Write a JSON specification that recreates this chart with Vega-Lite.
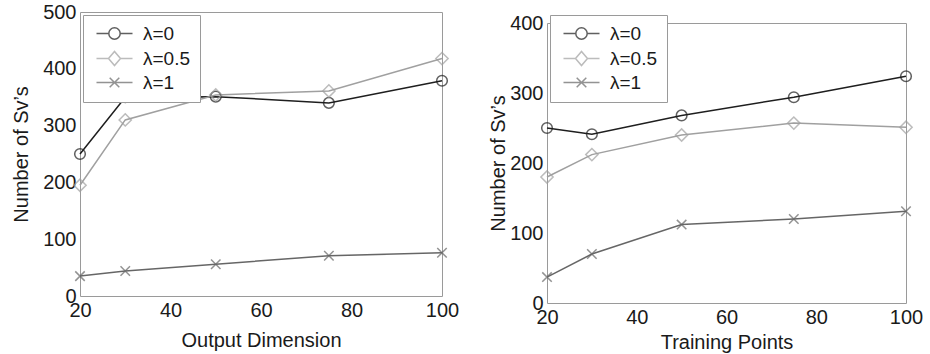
{
  "$schema": "https://vega.github.io/schema/vega-lite/v6.json",
  "padding": {"left": 11, "top": 1, "right": 5, "bottom": 2},
  "background": "white",
  "config": {
    "font": "Liberation Sans",
    "view": {"stroke": "#9a9a9a", "strokeWidth": 1},
    "axis": {
      "grid": false, "domain": false, "ticks": false, "tickSize": 0, "labelFlush": false,
      "labelFont": "Liberation Sans", "labelFontSize": 20, "labelColor": "#1a1a1a",
      "titleFont": "Liberation Sans", "titleFontSize": 20, "titleFontWeight": "normal", "titleColor": "#1a1a1a",
      "labelPadding": 4
    },
    "legend": {
      "orient": "top-left", "offset": 3, "title": null,
      "strokeColor": "#9a9a9a", "fillColor": "white", "padding": 9,
      "labelFont": "Liberation Sans", "labelFontSize": 19, "labelColor": "#1a1a1a",
      "symbolSize": 144, "symbolStrokeWidth": 1.5, "symbolOffset": 13, "labelOffset": 19, "rowPadding": 4
    }
  },
  "resolve": {
    "scale": {"x": "independent", "y": "independent", "stroke": "independent", "shape": "independent"},
    "legend": {"stroke": "independent", "shape": "independent"}
  },
  "spacing": 28,
  "hconcat": [
    {
      "width": 362, "height": 284,
      "data": {"values": [
        {"x": 20, "y": 250, "s": "λ=0"}, {"x": 30, "y": 350, "s": "λ=0"}, {"x": 50, "y": 351, "s": "λ=0"}, {"x": 75, "y": 340, "s": "λ=0"}, {"x": 100, "y": 379, "s": "λ=0"},
        {"x": 20, "y": 195, "s": "λ=0.5"}, {"x": 30, "y": 310, "s": "λ=0.5"}, {"x": 50, "y": 354, "s": "λ=0.5"}, {"x": 75, "y": 361, "s": "λ=0.5"}, {"x": 100, "y": 418, "s": "λ=0.5"},
        {"x": 20, "y": 35, "s": "λ=1"}, {"x": 30, "y": 44, "s": "λ=1"}, {"x": 50, "y": 56, "s": "λ=1"}, {"x": 75, "y": 71, "s": "λ=1"}, {"x": 100, "y": 76, "s": "λ=1"}
      ]},
      "encoding": {
        "x": {"field": "x", "type": "quantitative", "scale": {"domain": [20, 100], "nice": false}, "axis": {"values": [20, 40, 60, 80, 100], "title": "Output Dimension", "titlePadding": 10}},
        "y": {"field": "y", "type": "quantitative", "scale": {"domain": [0, 500], "nice": false}, "axis": {"values": [0, 100, 200, 300, 400, 500], "title": "Number of Sv’s", "titlePadding": 11}}
      },
      "layer": [
        {
          "transform": [{"filter": "datum.y < 0"}],
          "mark": {"type": "point", "filled": false, "strokeWidth": 1.5},
          "encoding": {
            "stroke": {"field": "s", "type": "nominal", "scale": {"domain": ["λ=0", "λ=0.5", "λ=1"], "range": ["#1e1e1e", "#a0a0a0", "#666666"]}},
            "shape": {"field": "s", "type": "nominal", "scale": {"domain": ["λ=0", "λ=0.5", "λ=1"], "range": [
              "M-3,0L-0.95,0M0.95,0L3,0M0.95,0A0.95,0.95,0,1,1,-0.95,0A0.95,0.95,0,1,1,0.95,0",
              "M-3,0L-1,0M1,0L3,0M-1,0L0,-1.17L1,0L0,1.17Z",
              "M-3,0L3,0M-0.8,-0.8L0.8,0.8M-0.8,0.8L0.8,-0.8"
            ]}}
          }
        },
        {
          "mark": {"type": "line", "strokeWidth": 1.5},
          "encoding": {
            "detail": {"field": "s"},
            "stroke": {"condition": [{"test": "datum.s === 'λ=0'", "value": "#1e1e1e"}, {"test": "datum.s === 'λ=0.5'", "value": "#a0a0a0"}], "value": "#666666"}
          }
        },
        {
          "mark": {"type": "point", "filled": false, "strokeWidth": 1.5},
          "encoding": {
            "stroke": {"condition": [{"test": "datum.s === 'λ=0'", "value": "#1e1e1e"}, {"test": "datum.s === 'λ=0.5'", "value": "#a0a0a0"}], "value": "#666666"},
            "shape": {"condition": [{"test": "datum.s === 'λ=0'", "value": "circle"}, {"test": "datum.s === 'λ=0.5'", "value": "diamond"}], "value": "M-1,-1L1,1M-1,1L1,-1"},
            "size": {"condition": [{"test": "datum.s === 'λ=0'", "value": 113}, {"test": "datum.s === 'λ=0.5'", "value": 150}], "value": 90}
          }
        }
      ]
    },
    {
      "spacing": -2,
      "vconcat": [
        {
          "width": 359, "height": 1,
          "view": {"stroke": "transparent"},
          "data": {"values": []},
          "mark": "point"
        },
        {
          "width": 359, "height": 280,
          "data": {"values": [
            {"x": 20, "y": 250, "s": "λ=0"}, {"x": 30, "y": 241, "s": "λ=0"}, {"x": 50, "y": 268, "s": "λ=0"}, {"x": 75, "y": 294, "s": "λ=0"}, {"x": 100, "y": 324, "s": "λ=0"},
            {"x": 20, "y": 180, "s": "λ=0.5"}, {"x": 30, "y": 212, "s": "λ=0.5"}, {"x": 50, "y": 240, "s": "λ=0.5"}, {"x": 75, "y": 257, "s": "λ=0.5"}, {"x": 100, "y": 251, "s": "λ=0.5"},
            {"x": 20, "y": 37, "s": "λ=1"}, {"x": 30, "y": 70, "s": "λ=1"}, {"x": 50, "y": 112, "s": "λ=1"}, {"x": 75, "y": 120, "s": "λ=1"}, {"x": 100, "y": 131, "s": "λ=1"}
          ]},
          "encoding": {
            "x": {"field": "x", "type": "quantitative", "scale": {"domain": [20, 100], "nice": false}, "axis": {"values": [20, 40, 60, 80, 100], "title": "Training Points", "titlePadding": 5}},
            "y": {"field": "y", "type": "quantitative", "scale": {"domain": [0, 400], "nice": false}, "axis": {"values": [0, 100, 200, 300, 400], "title": "Number of Sv’s", "titlePadding": 1}}
          },
          "layer": [
            {
              "transform": [{"filter": "datum.y < 0"}],
              "mark": {"type": "point", "filled": false, "strokeWidth": 1.5},
              "encoding": {
                "stroke": {"field": "s", "type": "nominal", "scale": {"domain": ["λ=0", "λ=0.5", "λ=1"], "range": ["#1e1e1e", "#a0a0a0", "#666666"]}},
                "shape": {"field": "s", "type": "nominal", "scale": {"domain": ["λ=0", "λ=0.5", "λ=1"], "range": [
                  "M-3,0L-0.95,0M0.95,0L3,0M0.95,0A0.95,0.95,0,1,1,-0.95,0A0.95,0.95,0,1,1,0.95,0",
                  "M-3,0L-1,0M1,0L3,0M-1,0L0,-1.17L1,0L0,1.17Z",
                  "M-3,0L3,0M-0.8,-0.8L0.8,0.8M-0.8,0.8L0.8,-0.8"
                ]}}
              }
            },
            {
              "mark": {"type": "line", "strokeWidth": 1.5},
              "encoding": {
                "detail": {"field": "s"},
                "stroke": {"condition": [{"test": "datum.s === 'λ=0'", "value": "#1e1e1e"}, {"test": "datum.s === 'λ=0.5'", "value": "#a0a0a0"}], "value": "#666666"}
              }
            },
            {
              "mark": {"type": "point", "filled": false, "strokeWidth": 1.5},
              "encoding": {
                "stroke": {"condition": [{"test": "datum.s === 'λ=0'", "value": "#1e1e1e"}, {"test": "datum.s === 'λ=0.5'", "value": "#a0a0a0"}], "value": "#666666"},
                "shape": {"condition": [{"test": "datum.s === 'λ=0'", "value": "circle"}, {"test": "datum.s === 'λ=0.5'", "value": "diamond"}], "value": "M-1,-1L1,1M-1,1L1,-1"},
                "size": {"condition": [{"test": "datum.s === 'λ=0'", "value": 113}, {"test": "datum.s === 'λ=0.5'", "value": 150}], "value": 90}
              }
            }
          ]
        }
      ]
    }
  ]
}
